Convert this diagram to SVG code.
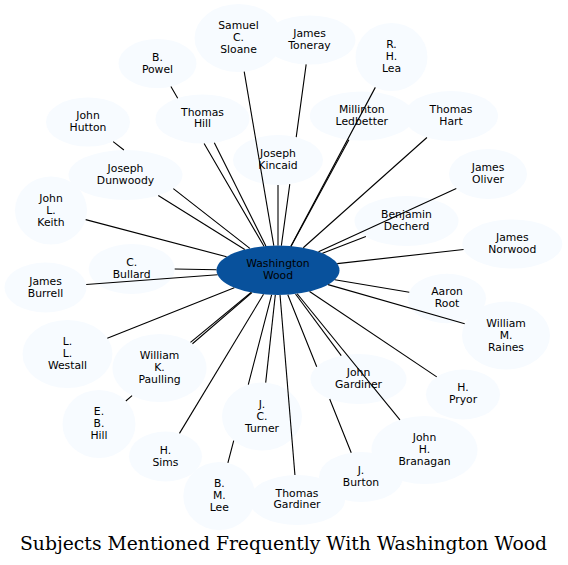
<svg xmlns="http://www.w3.org/2000/svg" width="568" height="565" viewBox="0 0 568 565">
<style>
.node ellipse{fill:#f7fbff;stroke:none}
.hub ellipse{fill:#08519c;stroke:none}
text{font-family:"DejaVu Sans","Liberation Sans",sans-serif;font-size:10.8px;fill:#000;text-anchor:middle}
.title{font-family:"DejaVu Serif","Liberation Serif",serif;font-size:18.7px}
#connectors path{fill:none;stroke:#000;stroke-width:1.1}
</style>
<rect width="568" height="565" fill="#fff"/>
<g id="nodes">
<g id="n-sloane" class="node"><ellipse cx="238.5" cy="38" rx="44" ry="34"/><text x="238.5" y="29">Samuel</text><text x="238.5" y="41">C.</text><text x="238.5" y="53">Sloane</text></g>
<g id="n-toneray" class="node"><ellipse cx="309.5" cy="40" rx="46" ry="24.5"/><text x="309.5" y="37">James</text><text x="309.5" y="49">Toneray</text></g>
<g id="n-lea" class="node"><ellipse cx="391.5" cy="57" rx="36" ry="34"/><text x="391.5" y="48">R.</text><text x="391.5" y="60">H.</text><text x="391.5" y="72">Lea</text></g>
<g id="n-powel" class="node"><ellipse cx="157.5" cy="63.5" rx="39" ry="24.5"/><text x="157.5" y="60.5">B.</text><text x="157.5" y="72.5">Powel</text></g>
<g id="n-thomashill" class="node"><ellipse cx="202.5" cy="119" rx="47" ry="24.5"/><text x="202.5" y="115.5">Thomas</text><text x="202.5" y="127.3">Hill</text></g>
<g id="n-hutton" class="node"><ellipse cx="88" cy="122" rx="42" ry="24.5"/><text x="88" y="119">John</text><text x="88" y="131">Hutton</text></g>
<g id="n-dunwoody" class="node"><ellipse cx="125.5" cy="175" rx="57" ry="25"/><text x="125.5" y="172">Joseph</text><text x="125.5" y="184">Dunwoody</text></g>
<g id="n-kincaid" class="node"><ellipse cx="278" cy="160" rx="45" ry="25"/><text x="278" y="157">Joseph</text><text x="278" y="169">Kincaid</text></g>
<g id="n-ledbetter" class="node"><ellipse cx="361.8" cy="116" rx="52" ry="24.5"/><text x="361.8" y="113">Millinton</text><text x="361.8" y="125">Ledbetter</text></g>
<g id="n-hart" class="node"><ellipse cx="451" cy="116" rx="47" ry="25"/><text x="451" y="113">Thomas</text><text x="451" y="125">Hart</text></g>
<g id="n-oliver" class="node"><ellipse cx="488" cy="174" rx="39" ry="25"/><text x="488" y="171">James</text><text x="488" y="183">Oliver</text></g>
<g id="n-decherd" class="node"><ellipse cx="406.5" cy="221" rx="52" ry="25"/><text x="406.5" y="218">Benjamin</text><text x="406.5" y="230">Decherd</text></g>
<g id="n-norwood" class="node"><ellipse cx="512.3" cy="244" rx="50" ry="24.5"/><text x="512.3" y="240.5">James</text><text x="512.3" y="252.5">Norwood</text></g>
<g id="n-root" class="node"><ellipse cx="447" cy="298.5" rx="39" ry="24.7"/><text x="447" y="295">Aaron</text><text x="447" y="307">Root</text></g>
<g id="n-raines" class="node"><ellipse cx="506" cy="335.5" rx="44" ry="34"/><text x="506" y="326.5">William</text><text x="506" y="338.5">M.</text><text x="506" y="350.5">Raines</text></g>
<g id="n-pryor" class="node"><ellipse cx="463" cy="394.5" rx="37" ry="25"/><text x="463" y="391">H.</text><text x="463" y="403">Pryor</text></g>
<g id="n-branagan" class="node"><ellipse cx="424.5" cy="450" rx="53" ry="34"/><text x="424.5" y="440.5">John</text><text x="424.5" y="452.5">H.</text><text x="424.5" y="464.5">Branagan</text></g>
<g id="n-burton" class="node"><ellipse cx="361" cy="477" rx="42" ry="25"/><text x="361" y="473.5">J.</text><text x="361" y="485.5">Burton</text></g>
<g id="n-thomasgardiner" class="node"><ellipse cx="297" cy="500" rx="48" ry="25"/><text x="297" y="496.5">Thomas</text><text x="297" y="508">Gardiner</text></g>
<g id="n-lee" class="node"><ellipse cx="219.3" cy="496" rx="36" ry="34"/><text x="219.3" y="487">B.</text><text x="219.3" y="499">M.</text><text x="219.3" y="511">Lee</text></g>
<g id="n-sims" class="node"><ellipse cx="165.5" cy="456.5" rx="36.5" ry="25"/><text x="165.5" y="453.5">H.</text><text x="165.5" y="465.5">Sims</text></g>
<g id="n-ebhill" class="node"><ellipse cx="99" cy="424" rx="36.5" ry="34"/><text x="99" y="414.5">E.</text><text x="99" y="426.5">B.</text><text x="99" y="438.5">Hill</text></g>
<g id="n-turner" class="node"><ellipse cx="262" cy="416.5" rx="40" ry="34"/><text x="262" y="407.5">J.</text><text x="262" y="419.5">C.</text><text x="262" y="431.5">Turner</text></g>
<g id="n-paulling" class="node"><ellipse cx="159.5" cy="368" rx="47" ry="34"/><text x="159.5" y="358.5">William</text><text x="159.5" y="370.5">K.</text><text x="159.5" y="382.5">Paulling</text></g>
<g id="n-westall" class="node"><ellipse cx="67.5" cy="354" rx="45" ry="34"/><text x="67.5" y="345">L.</text><text x="67.5" y="357">L.</text><text x="67.5" y="369">Westall</text></g>
<g id="n-burrell" class="node"><ellipse cx="45.5" cy="287.5" rx="41" ry="25"/><text x="45.5" y="284.5">James</text><text x="45.5" y="296.5">Burrell</text></g>
<g id="n-bullard" class="node"><ellipse cx="131.7" cy="269" rx="43" ry="25"/><text x="131.7" y="265.5">C.</text><text x="131.7" y="277.5">Bullard</text></g>
<g id="n-keith" class="node"><ellipse cx="51" cy="210.5" rx="36" ry="34"/><text x="51" y="202">John</text><text x="51" y="214">L.</text><text x="51" y="226">Keith</text></g>
<g id="n-johngardiner" class="node"><ellipse cx="358.5" cy="379" rx="48" ry="25"/><text x="358.5" y="375.5">John</text><text x="358.5" y="387.5">Gardiner</text></g>
<g id="n-washingtonwood" class="hub"><ellipse cx="278" cy="270.3" rx="61.5" ry="24.7"/><text x="278" y="266.8">Washington</text><text x="278" y="278.5">Wood</text></g>
</g>
<g id="connectors">
<path d="M273.8,245.65L244.2,71.7"/>
<path d="M281.37,245.64L289.78,184.14M296.22,137.09L306.16,64.43"/>
<path d="M290.85,246.15L375.33,87.38"/>
<path d="M263.99,246.25L204.11,143.49M177.7,98.16L170.91,86.51"/>
<path d="M265.91,246.08L214.33,142.71"/>
<path d="M249.86,248.34L173.33,188.6M123.89,150.01L113.14,141.62"/>
<path d="M244.75,249.52L158.25,195.46"/>
<path d="M278,245.6L278,185"/>
<path d="M291.11,246.17L348.91,139.74"/>
<path d="M303.25,247.78L426.93,137.47"/>
<path d="M318.52,251.72L456.28,188.55"/>
<path d="M322.47,253.24L365.86,236.59"/>
<path d="M337.23,263.65L463.56,249.47"/>
<path d="M334.8,279.78L409.29,292.21"/>
<path d="M328.1,284.63L464.73,323.7"/>
<path d="M309.57,291.5L436.75,376.88"/>
<path d="M297.14,293.77L399.94,419.87"/>
<path d="M287.79,294.68L316.71,366.71M329.68,398.99L351.24,452.69"/>
<path d="M280.04,294.99L294.93,475.02"/>
<path d="M271.61,294.87L248.29,384.55M233.72,440.57L227.89,462.98"/>
<path d="M263.5,294.3L179.46,433.4"/>
<path d="M251.94,292.67L192.46,343.75M132.06,395.61L125.84,400.96"/>
<path d="M275.3,294.98L265.7,382.65"/>
<path d="M251.07,292.5L190.5,342.44"/>
<path d="M234.29,287.68L107.32,338.17"/>
<path d="M217.52,274.77L86.2,284.49"/>
<path d="M216.5,269.75L174.7,269"/>
<path d="M226.58,256.75L85.68,219.64"/>
<path d="M295.53,293.97L341.23,355.67"/>
</g>
<text class="title" x="283.5" y="550" textLength="527" lengthAdjust="spacingAndGlyphs">Subjects Mentioned Frequently With Washington Wood</text>
</svg>
